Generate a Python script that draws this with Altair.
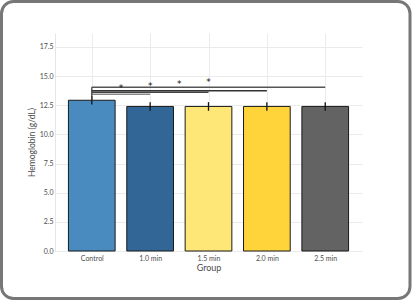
import altair as alt
import pandas as pd

groups = ["Control", "1.0 min", "1.5 min", "2.0 min", "2.5 min"]
means = [12.93, 12.4, 12.4, 12.4, 12.4]
errs = [0.37, 0.37, 0.37, 0.37, 0.37]
colors = ["#4A8BBF", "#316696", "#FFE777", "#FFD43B", "#636363"]
y_ticks = [0.0, 2.5, 5.0, 7.5, 10.0, 12.5, 15.0, 17.5]

# significance comparisons: Control vs target
sig_targets = ["1.0 min", "1.5 min", "2.0 min", "2.5 min"]
sig_line_y = [13.44, 13.61, 13.75, 14.04]
sig_star_y = [14.18, 14.35, 14.52, 14.75]
sig_line_colors = ["#8a8a8a", "#444444", "#333333", "#555555"]

W, H = 307, 218

bars_df = pd.DataFrame({
    "group": groups,
    "idx": list(range(len(groups))),
    "mean": means,
    "lo": [m - e for m, e in zip(means, errs)],
    "hi": [m + e for m, e in zip(means, errs)],
    "color": colors,
})
bars_df["x1"] = bars_df["idx"] - 0.4
bars_df["x2"] = bars_df["idx"] + 0.4

sig_df = pd.DataFrame({
    "target": sig_targets,
    "tidx": [groups.index(t) for t in sig_targets],
    "ly": sig_line_y,
    "sy": sig_star_y,
    "lc": sig_line_colors,
})
sig_df["x0"] = 0
sig_df["mid"] = sig_df["tidx"] / 2

label_arr = "[" + ",".join("'" + g + "'" for g in groups) + "]"

xscale = alt.Scale(domain=[-0.63, 4.63], nice=False, zero=False)
yscale = alt.Scale(domain=[0, 18.7], nice=False)

xaxis = alt.Axis(values=list(range(len(groups))), labelExpr=label_arr + "[datum.value]",
                 title="Group", grid=True, ticks=False, labelPadding=3, titlePadding=2,
                 labelFontSize=7, titleFontSize=9, labelColor="#4d4d4d", titleColor="#4d4d4d",
                 titleFontWeight="normal", labelOverlap=False,
                 domain=False, gridColor="#ebebeb", labelFont="Lato", titleFont="Lato")
yaxis = alt.Axis(values=y_ticks, format=".1f",
                 title="Hemoglobin (g/dL)", grid=True, ticks=False, labelPadding=2,
                 titlePadding=3, labelFontSize=7, titleFontSize=8.5,
                 titleFontWeight="normal", labelOverlap=False,
                 labelColor="#4d4d4d", titleColor="#4d4d4d", domainColor="#e6e6e6",
                 gridColor="#ebebeb", labelFont="Lato", titleFont="Lato")


def X(f):
    return alt.X(f, scale=xscale, axis=xaxis)


def Y(f):
    return alt.Y(f, scale=yscale, axis=yaxis)


base = alt.Chart(bars_df)

bars = base.mark_rect(stroke="#1a1a1a", strokeWidth=1).encode(
    x=X("x1:Q"),
    x2="x2:Q",
    y=Y("mean:Q"),
    y2=alt.datum(0),
    fill=alt.Fill("color:N", scale=None),
)

errbars = base.mark_rule(color="#111111", strokeWidth=1.3).encode(
    x=X("idx:Q"), y=Y("lo:Q"), y2="hi:Q"
)

sig = alt.Chart(sig_df)
sig_lines = sig.mark_rule(strokeWidth=1.5).encode(
    x=X("x0:Q"), x2="tidx:Q", y=Y("ly:Q"), color=alt.Color("lc:N", scale=None)
)
sig_vert = alt.Chart(pd.DataFrame({"x": [0], "y": [means[0]], "y2": [max(sig_line_y)]})).mark_rule(
    color="#444444", strokeWidth=1.3).encode(x=X("x:Q"), y=Y("y:Q"), y2="y2:Q")
stars = sig.mark_text(text="*", fontSize=9, color="#111111", baseline="middle", dy=2.5,
                      font="DejaVu Sans").encode(x=X("mid:Q"), y=Y("sy:Q"))

frame = alt.Chart(alt.Data(values=[{"a": 1}])).mark_rect(
    fill="transparent", stroke="#777777", strokeWidth=3, cornerRadius=12
).encode(
    x=alt.value(-53.5), x2=alt.value(W + 48), y=alt.value(-31.5), y2=alt.value(H + 47.5)
)

chart = alt.layer(bars, errbars, sig_lines, sig_vert, stars, frame).properties(
    width=W, height=H,
    autosize=alt.AutoSizeParams(type="none"),
    padding={"left": 55, "top": 33, "right": 53, "bottom": 51},
    background="white",
).configure_view(stroke=None)

chart.save("out.html", embed_options={"renderer": "svg", "actions": False})
